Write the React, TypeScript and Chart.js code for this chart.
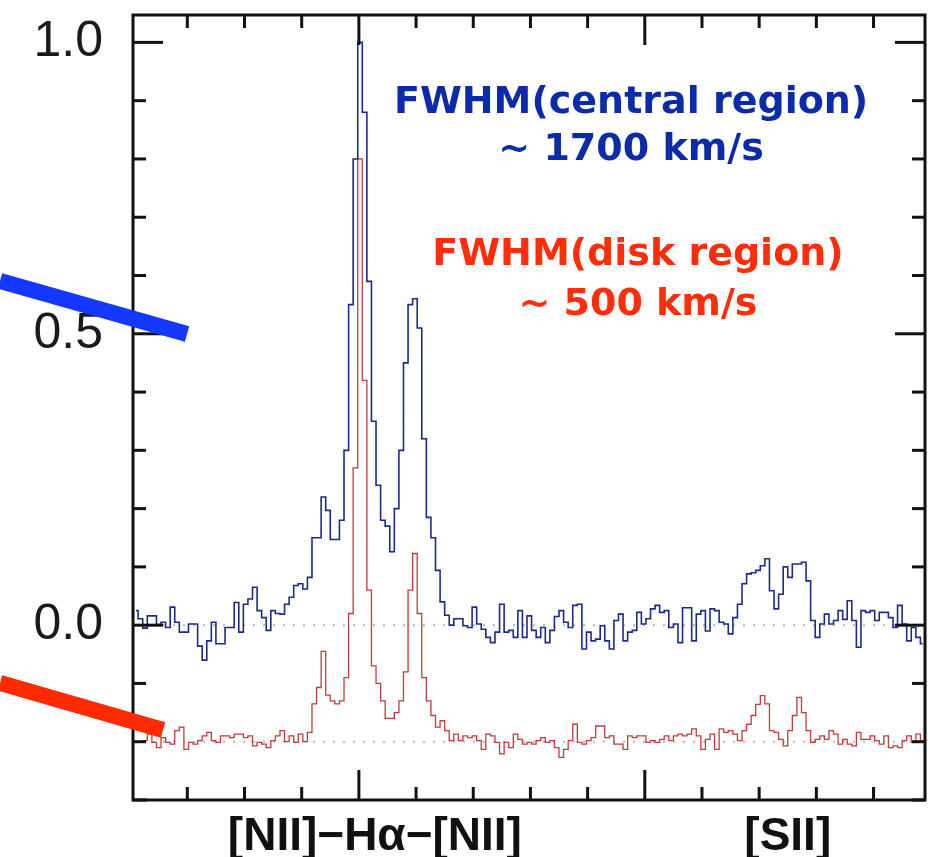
import React, { useEffect, useRef } from "react";
import { Chart, registerables } from "chart.js";

Chart.register(...registerables);

// Spectral grid: centre of first channel and channel width, in Å
const WAVE_START = 6422;
const WAVE_STEP = 1.6;
const X_MIN = 6421;
const X_MAX = 6698;
const Y_MIN = -0.3;
const Y_MAX = 1.047;

// Normalised flux, central region (offset 0.0)
const CENTRAL_FLUX = [
  0.025, 0.011, -0.005, 0.016, 0.016, 0.001, 0.005, -0.004, 0.031, 0.005,
  -0.012, -0.012, 0.002, 0.002, -0.036, -0.06, -0.027, 0.005, -0.032, -0.032,
  -0.004, -0.004, 0.039, -0.012, 0.036, 0.045, 0.065, 0.025, 0.013, -0.009,
  0.025, 0.02, 0.019, 0.036, 0.048, 0.068, 0.071, 0.062, 0.082, 0.15,
  0.15, 0.22, 0.197, 0.147, 0.147, 0.18, 0.3, 0.55, 0.8, 1.0,
  0.88, 0.59, 0.35, 0.24, 0.18, 0.17, 0.126, 0.2, 0.3, 0.45,
  0.55, 0.56, 0.51, 0.32, 0.185, 0.15, 0.094, 0.04, 0.017, 0.0,
  0.011, 0.011, -0.001, -0.004, 0.031, 0.002, -0.007, -0.021, -0.03, -0.012,
  0.036, -0.012, -0.009, -0.021, 0.025, -0.021, 0.016, -0.009, -0.021, -0.004,
  -0.03, -0.009, 0.015, 0.025, 0.005, -0.004, 0.034, 0.036, -0.041, -0.012,
  -0.027, -0.024, -0.001, -0.027, -0.041, 0.008, 0.019, -0.027, -0.012, -0.009,
  0.022, 0.002, 0.011, 0.028, 0.034, 0.022, 0.025, -0.004, 0.002, -0.03,
  0.03, 0.03, -0.027, 0.019, 0.025, -0.01, 0.028, 0.025, 0.005, 0.002,
  -0.015, 0.013, 0.036, 0.071, 0.088, 0.09, 0.094, 0.102, 0.114, 0.059,
  0.028, 0.053, 0.1, 0.082, 0.105, 0.105, 0.108, 0.076, 0.008, -0.021,
  0.002, 0.019, 0.002, 0.008, 0.025, 0.01, 0.042, 0.008, -0.038, 0.025,
  0.022, 0.025, 0.008, 0.022, 0.022, 0.013, -0.004, 0.034, 0.002, -0.027,
  -0.004, -0.021, -0.032,
];

// Normalised flux, disk region (offset -0.2)
const DISK_FLUX = [
  -0.201, -0.201, -0.198, -0.187, -0.201, -0.21, -0.193, -0.201, -0.204, -0.181,
  -0.175, -0.213, -0.201, -0.204, -0.198, -0.19, -0.184, -0.198, -0.201, -0.19,
  -0.19, -0.193, -0.187, -0.187, -0.193, -0.19, -0.207, -0.201, -0.204, -0.21,
  -0.198, -0.19, -0.181, -0.2, -0.19, -0.201, -0.187, -0.2, -0.184, -0.135,
  -0.107, -0.045, -0.12, -0.13, -0.135, -0.13, -0.09, 0.02, 0.27, 0.8,
  0.42, 0.06, -0.07, -0.1, -0.13, -0.16, -0.16, -0.15, -0.13, -0.08,
  0.06, 0.123, 0.02, -0.09, -0.13, -0.155, -0.175, -0.164, -0.181, -0.198,
  -0.187, -0.198, -0.19, -0.193, -0.19, -0.198, -0.213, -0.187, -0.19, -0.201,
  -0.221, -0.201, -0.21, -0.187, -0.196, -0.204, -0.201, -0.204, -0.198, -0.193,
  -0.201, -0.198, -0.21, -0.227, -0.213, -0.198, -0.17, -0.201, -0.204, -0.198,
  -0.193, -0.173, -0.173, -0.193, -0.19, -0.204, -0.204, -0.213, -0.19, -0.193,
  -0.19, -0.19, -0.201, -0.198, -0.201, -0.196, -0.19, -0.198, -0.19, -0.187,
  -0.19, -0.187, -0.178, -0.19, -0.213, -0.196, -0.187, -0.213, -0.178, -0.184,
  -0.181, -0.187, -0.198, -0.181, -0.17, -0.155, -0.136, -0.121, -0.135, -0.181,
  -0.184, -0.196, -0.207, -0.181, -0.155, -0.124, -0.15, -0.181, -0.201, -0.196,
  -0.19, -0.196, -0.181, -0.187, -0.204, -0.196, -0.204, -0.207, -0.184, -0.196,
  -0.196, -0.19, -0.198, -0.204, -0.19, -0.21, -0.207, -0.21, -0.198, -0.19,
  -0.201, -0.187, -0.198,
];

// Emission-line labels under the axis and their wavelengths
const LINE_LABELS = ["[NII]\u2212H\u03b1\u2212[NII]", "[SII]"];
const LINE_LABEL_WAVES = [6505.6, 6650.0];

// Labelled flux ticks
const Y_LABELED = [0, 0.5, 1.0];
const Y_MINOR = [-0.3, -0.2, -0.1, 0, 0.1, 0.2, 0.3, 0.4, 0.5, 0.6, 0.7, 0.8, 0.9, 1.0];
const Y_MAJOR = [0, 0.5, 1.0];
const X_MINOR = [6440, 6460, 6480, 6500, 6520, 6540, 6560, 6580, 6600, 6620, 6640, 6660, 6680];
const X_MAJOR = [6500, 6600];

// Continuum levels of the two spectra
const BASELINES = [0, -0.2];

const BLUE_TEXT = "#0c2ba8";
const RED_TEXT = "#ff2d0a";

// FWHM notes: text, wavelength of centre, flux at baseline
const NOTES = [
  { text: "FWHM(central region)", x: 6595.2, y: 0.879, color: BLUE_TEXT },
  { text: "~ 1700 km/s", x: 6595.2, y: 0.798, color: BLUE_TEXT },
  { text: "FWHM(disk region)", x: 6597.6, y: 0.618, color: RED_TEXT },
  { text: "~ 500 km/s", x: 6597.6, y: 0.532, color: RED_TEXT },
];

// Pointer bars aimed at each spectrum (wavelength, flux endpoints)
const POINTERS = [
  { from: [6374.5, 0.5906], to: [6439.9, 0.4997], color: "#1438ff" },
  { from: [6374.5, -0.0991], to: [6431.5, -0.1798], color: "#ff2a00" },
];

const toPoints = (arr: number[]) =>
  arr.map((y, i) => ({ x: WAVE_START + i * WAVE_STEP, y }));

const baselinePlugin = {
  id: "baselines",
  beforeDatasetsDraw(chart: any) {
    const { ctx, chartArea: a, scales } = chart;
    ctx.save();
    ctx.strokeStyle = "rgba(160,160,160,0.75)";
    ctx.lineWidth = 2;
    ctx.setLineDash([2, 8]);
    BASELINES.forEach((v) => {
      const py = scales.y.getPixelForValue(v);
      ctx.beginPath();
      ctx.moveTo(a.left, py);
      ctx.lineTo(a.right, py);
      ctx.stroke();
    });
    ctx.restore();
  },
};

const framePlugin = {
  id: "frame",
  afterDraw(chart: any) {
    const { ctx, chartArea: a, scales } = chart;
    const { x, y } = scales;
    ctx.save();
    ctx.strokeStyle = "#111";
    ctx.lineWidth = 3;
    const seg = (x1: number, y1: number, x2: number, y2: number) => {
      ctx.beginPath();
      ctx.moveTo(x1, y1);
      ctx.lineTo(x2, y2);
      ctx.stroke();
    };
    Y_MINOR.forEach((v) => {
      const py = y.getPixelForValue(v);
      const len = Y_MAJOR.some((m) => Math.abs(m - v) < 1e-9) ? 30 : 13;
      seg(a.left, py, a.left + len, py);
      seg(a.right, py, a.right - len, py);
    });
    X_MINOR.forEach((w) => {
      const px = x.getPixelForValue(w);
      const len = X_MAJOR.includes(w) ? 30 : 13;
      seg(px, a.bottom, px, a.bottom - len);
      seg(px, a.top, px, a.top + len);
    });
    ctx.strokeRect(a.left, a.top, a.right - a.left, a.bottom - a.top);

    // FWHM notes
    ctx.font = "bold 38px 'DejaVu Sans', sans-serif";
    ctx.textAlign = "center";
    ctx.textBaseline = "alphabetic";
    NOTES.forEach((n) => {
      ctx.fillStyle = n.color;
      ctx.fillText(n.text, x.getPixelForValue(n.x), y.getPixelForValue(n.y));
    });

    // pointer bars
    ctx.lineCap = "butt";
    ctx.lineWidth = 16;
    POINTERS.forEach((p) => {
      ctx.strokeStyle = p.color;
      seg(
        x.getPixelForValue(p.from[0]),
        y.getPixelForValue(p.from[1]),
        x.getPixelForValue(p.to[0]),
        y.getPixelForValue(p.to[1])
      );
    });
    ctx.restore();
  },
};

export default function App() {
  const canvasRef = useRef<HTMLCanvasElement | null>(null);

  useEffect(() => {
    document.body.style.margin = "0";
    const canvas = canvasRef.current;
    if (!canvas) return;
    const chart = new Chart(canvas, {
      type: "line",
      data: {
        datasets: [
          {
            label: "central region",
            data: toPoints(CENTRAL_FLUX),
            borderColor: "#1c2a8e",
            borderWidth: 1.6,
            stepped: "middle",
            pointRadius: 0,
            fill: false,
          },
          {
            label: "disk region",
            data: toPoints(DISK_FLUX),
            borderColor: "#c23b3b",
            borderWidth: 1.3,
            stepped: "middle",
            pointRadius: 0,
            fill: false,
          },
        ],
      },
      options: {
        animation: false,
        responsive: false,
        layout: { padding: { top: 15, right: 11, left: 0, bottom: 0 } },
        plugins: {
          legend: { display: false },
          tooltip: { enabled: false },
        },
        scales: {
          x: {
            type: "linear",
            min: X_MIN,
            max: X_MAX,
            grid: { display: false, drawTicks: false },
            border: { display: false },
            afterBuildTicks: (s: any) => {
              s.ticks = LINE_LABEL_WAVES.map((v) => ({ value: v }));
            },
            afterFit: (s: any) => {
              s.height = 57;
              s.paddingLeft = 0;
              s.paddingRight = 0;
            },
            ticks: {
              autoSkip: false,
              maxRotation: 0,
              minRotation: 0,
              padding: 10,
              color: "#111",
              font: {
                family: "'Liberation Sans', Arial, sans-serif",
                weight: "bold",
                size: 46,
              },
              callback: (_v: any, i: number) => LINE_LABELS[i],
            },
          },
          y: {
            type: "linear",
            min: Y_MIN,
            max: Y_MAX,
            grid: { display: false, drawTicks: false },
            border: { display: false },
            afterBuildTicks: (s: any) => {
              s.ticks = Y_LABELED.map((v) => ({ value: v }));
            },
            afterFit: (s: any) => {
              s.width = 133;
              s.paddingTop = 0;
              s.paddingBottom = 0;
            },
            ticks: {
              padding: 30,
              color: "#1a1a1a",
              font: { family: "'Liberation Sans', Arial, sans-serif", size: 50 },
              callback: (v: any) => Number(v).toFixed(1),
            },
          },
        },
      },
      plugins: [baselinePlugin, framePlugin],
    } as any);
    return () => chart.destroy();
  }, []);

  return (
    <div style={{ width: 936, height: 857 }}>
      <canvas ref={canvasRef} width={936} height={857} style={{ display: "block" }} />
    </div>
  );
}
